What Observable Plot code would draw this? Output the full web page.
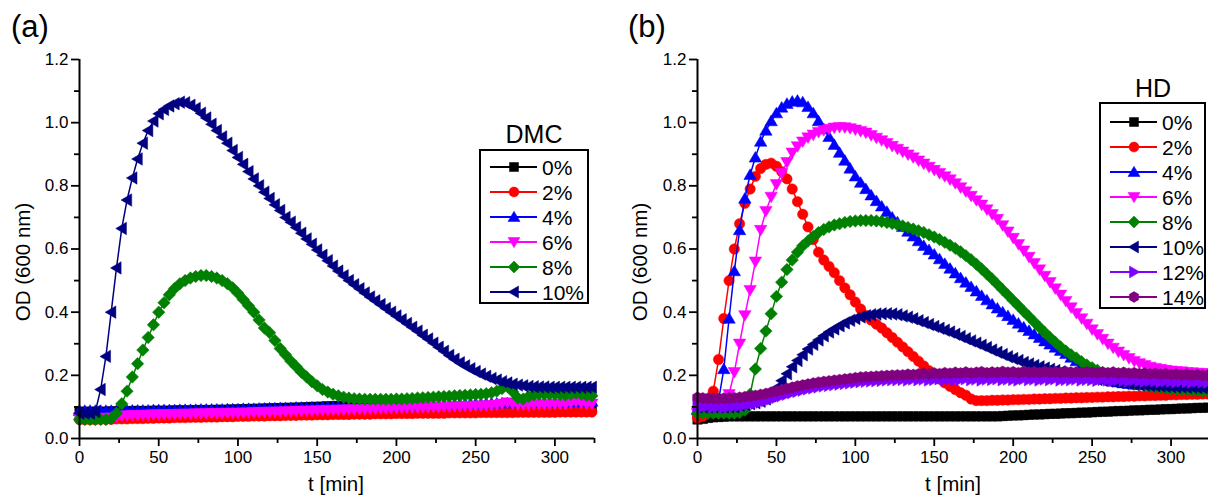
<!DOCTYPE html>
<html><head><meta charset="utf-8">
<script src="https://cdn.jsdelivr.net/npm/d3@7"></script>
<script src="https://cdn.jsdelivr.net/npm/@observablehq/plot@0.6"></script>
<style>
html,body{margin:0;padding:0;background:#fff;overflow:hidden;width:1208px;height:499px;}
#wrap{position:relative;width:1208px;height:499px;overflow:hidden;font-family:"Liberation Sans",Arial,sans-serif;}
.panel{position:absolute;top:0;}
#overlay{position:absolute;left:0;top:0;}
</style></head><body><div id="wrap"></div><script>
// sampling interval of the measurements (min)
const step = 10/3;
const times = d3.range(98).map(i => i * step);

const dmcLabels = ["0%","2%","4%","6%","8%","10%"];
const hdLabels = ["0%","2%","4%","6%","8%","10%","12%","14%"];
const colors = ["#000000","#ff0000","#0000ff","#ff00ff","#008000","#000080","#8000ff","#800080"];
const xTicks = [0,50,100,150,200,250,300];
const xMinor = [25,75,125,175,225,275,325];
const yTicks = [0,0.2,0.4,0.6,0.8,1.0,1.2];
const yMinor = [0.1,0.3,0.5,0.7,0.9,1.1];

// ---- (a) DMC ----
const dmc0 = [.085,.085,.085,.085,.085,.085,.086,.086,.086,.086,.087,.087,.087,.087,.088,.088,.088,.088,.089,.089,.089,.089,.090,.090,.090,.090,.091,.091,.091,.092,.092,.093,.093,.094,.094,.095,.095,.096,.096,.097,.097,.098,.098,.099,.100,.100,.101,.102,.102,.103,.103,.103,.103,.102,.102,.101,.101,.100,.100,.100,.100,.100,.100,.100,.100,.100,.100,.099,.099,.099,.099,.099,.099,.099,.099,.098,.098,.098,.098,.098,.098,.098,.098,.098,.098,.097,.097,.097,.097,.097,.097,.097,.097,.097,.096,.096,.096,.096];
const dmc2 = [.060,.060,.060,.060,.061,.061,.061,.062,.062,.062,.063,.063,.063,.064,.064,.065,.065,.065,.066,.066,.066,.067,.067,.067,.068,.068,.068,.069,.069,.069,.070,.070,.070,.071,.071,.071,.072,.072,.072,.073,.073,.073,.074,.074,.074,.075,.075,.075,.076,.076,.076,.076,.077,.077,.077,.077,.078,.078,.078,.078,.079,.079,.079,.079,.080,.080,.080,.080,.080,.080,.081,.081,.081,.081,.081,.081,.082,.082,.082,.082,.082,.082,.082,.083,.083,.083,.083,.083,.083,.083,.083,.084,.084,.084,.084,.084,.084,.084];
const dmc4 = [.088,.088,.088,.088,.088,.088,.088,.088,.089,.089,.089,.089,.089,.089,.090,.090,.090,.090,.090,.091,.091,.091,.091,.092,.092,.092,.092,.092,.093,.093,.093,.094,.094,.094,.095,.095,.096,.096,.097,.097,.097,.098,.098,.098,.099,.099,.100,.100,.100,.101,.101,.101,.102,.102,.102,.103,.103,.103,.104,.104,.104,.105,.105,.105,.106,.106,.106,.107,.107,.108,.108,.108,.109,.109,.110,.110,.110,.111,.111,.111,.112,.112,.112,.113,.113,.113,.113,.114,.114,.114,.115,.115,.115,.116,.116,.116,.117,.117];
const dmc6 = [.065,.065,.065,.065,.065,.065,.066,.069,.072,.073,.074,.074,.075,.075,.076,.076,.077,.077,.077,.078,.078,.078,.079,.079,.079,.080,.080,.080,.081,.081,.081,.082,.082,.083,.083,.084,.084,.085,.085,.086,.086,.087,.087,.088,.088,.089,.089,.090,.090,.091,.091,.092,.092,.093,.093,.094,.094,.095,.095,.096,.096,.097,.097,.098,.098,.099,.099,.100,.100,.101,.101,.102,.102,.103,.103,.104,.104,.105,.105,.107,.110,.114,.110,.107,.107,.107,.108,.108,.108,.108,.109,.109,.109,.112,.117,.112,.110,.110];
const dmc8 = [.060,.060,.060,.060,.060,.060,.063,.080,.110,.150,.195,.237,.280,.320,.360,.400,.430,.455,.475,.490,.500,.508,.513,.516,.516,.513,.508,.500,.490,.477,.460,.440,.420,.400,.375,.350,.335,.310,.285,.265,.245,.228,.210,.195,.180,.167,.155,.147,.140,.135,.131,.128,.126,.125,.124,.124,.124,.124,.124,.124,.125,.125,.126,.127,.128,.129,.130,.131,.132,.133,.134,.135,.136,.137,.138,.139,.140,.142,.145,.150,.158,.165,.148,.128,.125,.133,.138,.140,.140,.140,.140,.139,.138,.140,.143,.140,.136,.135];
const dmc10 = [.080,.080,.080,.085,.155,.260,.400,.540,.665,.755,.825,.885,.935,.975,1.005,1.028,1.042,1.053,1.060,1.065,1.063,1.055,1.045,1.030,1.015,.995,.975,.955,.935,.912,.890,.868,.845,.822,.800,.780,.760,.740,.722,.700,.685,.668,.650,.632,.615,.597,.580,.563,.546,.530,.515,.500,.487,.474,.461,.448,.436,.424,.412,.400,.388,.376,.364,.352,.340,.327,.315,.302,.289,.276,.263,.251,.240,.230,.221,.212,.204,.197,.190,.185,.180,.176,.172,.169,.167,.165,.164,.163,.163,.162,.162,.162,.162,.162,.162,.162,.162,.162];

// ---- (b) HD ----
const hd0 = [.060,.062,.065,.067,.068,.069,.070,.070,.070,.070,.070,.070,.070,.070,.070,.070,.070,.070,.070,.070,.070,.070,.070,.070,.070,.070,.070,.070,.070,.070,.070,.070,.070,.070,.070,.070,.070,.070,.070,.070,.070,.070,.070,.070,.070,.070,.070,.070,.070,.070,.070,.070,.070,.070,.070,.070,.070,.070,.071,.072,.073,.073,.074,.075,.076,.076,.077,.078,.078,.079,.080,.080,.081,.082,.082,.083,.084,.085,.085,.086,.087,.087,.088,.089,.089,.090,.091,.091,.092,.093,.093,.094,.095,.095,.096,.097,.097,.098];
const hd2 = [.065,.070,.090,.150,.250,.380,.500,.600,.680,.745,.790,.830,.855,.868,.872,.862,.845,.822,.790,.750,.710,.670,.630,.590,.565,.545,.525,.500,.477,.455,.432,.410,.390,.375,.362,.350,.335,.320,.305,.290,.275,.260,.245,.230,.215,.200,.188,.176,.165,.155,.145,.137,.125,.120,.120,.120,.121,.121,.122,.122,.123,.123,.124,.124,.125,.125,.126,.126,.127,.127,.128,.128,.129,.129,.130,.130,.131,.131,.132,.132,.133,.133,.134,.134,.135,.135,.136,.136,.137,.137,.138,.138,.139,.139,.140,.140,.141,.141];
const hd4 = [.090,.090,.090,.095,.120,.220,.380,.530,.660,.760,.835,.890,.940,.975,1.005,1.030,1.048,1.060,1.067,1.070,1.065,1.050,1.030,1.005,.980,.955,.930,.905,.880,.855,.830,.810,.790,.770,.752,.735,.718,.700,.685,.670,.655,.640,.625,.610,.597,.583,.568,.553,.538,.523,.508,.494,.480,.466,.452,.438,.425,.412,.400,.388,.376,.364,.352,.341,.330,.319,.308,.298,.288,.278,.268,.256,.245,.232,.220,.210,.200,.193,.187,.182,.178,.175,.173,.171,.170,.169,.168,.167,.167,.166,.166,.165,.165,.164,.164,.164,.163,.163];
const hd6 = [.080,.080,.080,.085,.090,.100,.140,.210,.300,.390,.470,.560,.660,.720,.765,.805,.840,.875,.905,.925,.940,.953,.962,.970,.976,.980,.984,.986,.985,.982,.978,.973,.968,.960,.952,.944,.935,.926,.917,.908,.899,.890,.880,.870,.860,.850,.840,.830,.820,.808,.795,.782,.768,.754,.740,.725,.710,.695,.675,.655,.635,.615,.595,.575,.555,.535,.515,.495,.475,.455,.435,.415,.397,.380,.363,.345,.330,.315,.300,.287,.275,.264,.254,.245,.238,.232,.227,.223,.220,.217,.215,.213,.212,.210,.209,.208,.207,.206];
const hd8 = [.080,.080,.080,.080,.080,.080,.080,.080,.082,.090,.140,.220,.285,.340,.395,.450,.495,.535,.565,.590,.610,.625,.640,.652,.662,.670,.676,.680,.684,.687,.689,.690,.690,.690,.689,.687,.684,.681,.677,.673,.668,.663,.658,.652,.645,.638,.630,.621,.612,.602,.591,.579,.566,.552,.537,.521,.505,.488,.471,.454,.437,.420,.403,.386,.369,.352,.336,.320,.305,.290,.277,.265,.255,.243,.233,.224,.216,.208,.200,.194,.188,.183,.179,.175,.171,.168,.165,.163,.161,.159,.157,.156,.155,.154,.153,.152,.151,.150];
const hd10 = [.100,.100,.100,.100,.100,.100,.100,.100,.105,.108,.110,.113,.118,.125,.135,.160,.183,.205,.227,.247,.265,.283,.298,.312,.325,.337,.347,.357,.366,.374,.380,.385,.389,.392,.394,.395,.395,.394,.392,.388,.384,.379,.373,.367,.361,.355,.349,.343,.337,.330,.323,.316,.309,.302,.295,.288,.280,.273,.266,.259,.253,.247,.241,.236,.231,.227,.223,.219,.215,.211,.207,.203,.199,.196,.193,.190,.187,.184,.182,.180,.178,.176,.174,.172,.170,.169,.168,.167,.166,.165,.164,.163,.163,.162,.162,.161,.161,.160];
const hd12 = [.102,.100,.103,.100,.101,.099,.101,.102,.104,.106,.109,.111,.115,.120,.125,.130,.135,.140,.145,.149,.153,.157,.160,.163,.166,.168,.170,.172,.174,.176,.178,.180,.181,.182,.183,.184,.185,.186,.186,.187,.185,.188,.186,.188,.185,.187,.189,.186,.188,.185,.187,.189,.186,.188,.185,.188,.187,.189,.186,.188,.187,.185,.189,.186,.188,.185,.188,.186,.189,.185,.187,.186,.188,.185,.187,.186,.184,.187,.185,.183,.186,.184,.182,.185,.183,.181,.184,.182,.180,.183,.181,.179,.182,.180,.178,.181,.179,.178];
const hd14 = [.130,.128,.127,.126,.126,.127,.128,.129,.130,.132,.134,.136,.139,.142,.146,.150,.154,.158,.162,.166,.169,.172,.175,.178,.180,.182,.184,.186,.188,.190,.192,.194,.195,.196,.197,.198,.199,.200,.201,.201,.203,.202,.204,.206,.204,.207,.205,.208,.206,.209,.207,.210,.207,.209,.211,.208,.210,.209,.212,.209,.211,.208,.212,.209,.211,.208,.212,.209,.211,.208,.211,.209,.210,.208,.211,.209,.207,.210,.208,.210,.207,.209,.206,.208,.205,.207,.204,.206,.203,.205,.202,.204,.201,.203,.200,.202,.199,.200];

const dmcSeries = [dmc0, dmc2, dmc4, dmc6, dmc8, dmc10];
const hdSeries = [hd0, hd2, hd4, hd6, hd8, hd10, hd12, hd14];

// ---- marker shapes (Origin style) ----
function poly(pts){ return {draw(ctx, size){ const h = Math.sqrt(size/Math.PI); pts.forEach((p,i)=> i? ctx.lineTo(p[0]*h,p[1]*h) : ctx.moveTo(p[0]*h,p[1]*h)); ctx.closePath(); }}; }
const symSquare = poly([[-0.9,-0.9],[0.9,-0.9],[0.9,0.9],[-0.9,0.9]]);
const symCircle = {draw(ctx,size){ const h=Math.sqrt(size/Math.PI); ctx.moveTo(h,0); ctx.arc(0,0,h,0,2*Math.PI); }};
const symUp = poly([[0,-1.15],[1.2,0.9],[-1.2,0.9]]);
const symDown = poly([[0,1.15],[1.2,-0.9],[-1.2,-0.9]]);
const symDiamond = poly([[0,-1.2],[1.2,0],[0,1.2],[-1.2,0]]);
const symLeft = poly([[-1.15,0],[0.9,-1.2],[0.9,1.2]]);
const symRight = poly([[1.15,0],[-0.9,-1.2],[-0.9,1.2]]);
const symHex = poly(d3.range(6).map(k => [1.08*Math.cos(Math.PI/6 + k*Math.PI/3), 1.08*Math.sin(Math.PI/6 + k*Math.PI/3)]));
const symbols = [symSquare, symCircle, symUp, symDown, symDiamond, symLeft, symRight, symHex];

const R = 5.2;
const font = "'Liberation Sans', Arial, sans-serif";

function panel(series, width, marginLeft, marginRight){
  const marks = [];
  series.forEach((vals, k) => {
    const data = vals.map((v,i) => ({t: times[i], v}));
    marks.push(Plot.line(data, {x:"t", y:"v", stroke: colors[k], strokeWidth: 1.5}));
    marks.push(Plot.dot(data, {x:"t", y:"v", symbol: symbols[k], r: R, fill: colors[k], stroke: colors[k], strokeWidth: 0.5}));
  });
  marks.push(
    Plot.axisX(xTicks, {tickSize: 8, tickPadding: 4, fontSize: 17, strokeWidth: 1.8, label: null}),
    Plot.axisX(xMinor, {tickSize: 5, tickFormat: () => "", strokeWidth: 1.8, label: null}),
    Plot.axisY(yTicks, {tickSize: 8, tickPadding: 3, fontSize: 17, strokeWidth: 1.8, tickFormat: d => d.toFixed(1), label: null}),
    Plot.axisY(yMinor, {tickSize: 5, tickFormat: () => "", strokeWidth: 1.8, label: null}),
    Plot.ruleX([0], {strokeWidth: 2}),
    Plot.ruleY([0], {strokeWidth: 2})
  );
  return Plot.plot({
    width, height: 499, marginTop: 59, marginBottom: 61, marginLeft, marginRight,
    x: {domain: [0, 325]}, y: {domain: [0, 1.2]},
    style: {fontFamily: font, fontSize: "17px", color: "#000", background: "transparent", overflow: "visible"},
    marks
  });
}

const wrap = document.getElementById("wrap");
const pa = panel(dmcSeries, 604, 79, 10);
pa.classList.add("panel"); pa.style.left = "0px";
wrap.appendChild(pa);
const pb = panel(hdSeries, 610, 93, 4);
pb.classList.add("panel"); pb.style.left = "604px";
wrap.appendChild(pb);

// ---- overlay: panel labels, axis titles, legends ----
const svg = d3.select(wrap).append("svg").attr("id","overlay").attr("width",1208).attr("height",499)
  .style("font-family", font);
function txt(x,y,s,size,anchor,rot){
  const t = svg.append("text").attr("x",x).attr("y",y).text(s).attr("font-size",size).attr("fill","#000")
    .attr("text-anchor",anchor||"start");
  if (rot) t.attr("transform",`rotate(${rot},${x},${y})`);
  return t;
}
txt(11,37,"(a)",31);
txt(628,37,"(b)",31);
txt(30,262,"OD (600 nm)",20.5,"middle",-90);
txt(647,262,"OD (600 nm)",20.5,"middle",-90);
txt(336,491,"t [min]",20.5,"middle");
txt(953,491,"t [min]",20.5,"middle");

function legend(title, labels, box, titleX, titleY){
  svg.append("rect").attr("x",box.x).attr("y",box.y).attr("width",box.w).attr("height",box.h)
    .attr("fill","white").attr("stroke","#000").attr("stroke-width",2);
  txt(titleX, titleY, title, 25, "middle");
  labels.forEach((lab,k) => {
    const cy = box.row0 + k*25;
    svg.append("line").attr("x1",box.x+10).attr("x2",box.x+57).attr("y1",cy).attr("y2",cy)
      .attr("stroke",colors[k]).attr("stroke-width",2);
    const p = d3.path(); symbols[k].draw(p, Math.PI*5*5);
    svg.append("path").attr("d", p.toString()).attr("transform",`translate(${box.x+34},${cy})`)
      .attr("fill",colors[k]).attr("stroke",colors[k]).attr("stroke-width",0.5);
    txt(box.x+62, cy+7.5, lab, 21);
  });
}
legend("DMC", dmcLabels, {x:480, y:150, w:108, h:153, row0:167}, 534, 143);
legend("HD", hdLabels, {x:1100, y:103, w:105, h:205, row0:122}, 1153, 97);
</script></body></html>
